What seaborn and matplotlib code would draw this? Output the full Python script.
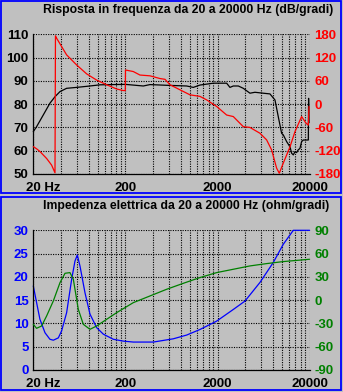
import numpy as np
import pandas as pd
import matplotlib
matplotlib.use("Agg")
import matplotlib.pyplot as plt
import seaborn as sns
from matplotlib.ticker import FixedLocator, NullFormatter
from matplotlib.patches import Rectangle
import matplotlib.transforms as mtransforms

# ---------------- data ----------------
spl_freq = [20, 21.7, 25.7, 30.3, 34.4, 39.0, 46.0, 59.1, 82.5, 105.9, 199.5, 312.8,
            369.8, 560.8, 924.6, 1092, 1290, 1800, 2513, 2731, 2969, 3366, 3812, 4502,
            5100, 6283, 7424, 8414, 9141, 9937, 10357, 11270, 12247, 12766, 13310,
            13870, 14460, 15000, 15710, 16380, 17090, 18580, 19370, 19500, 19700]
spl_db = [68.2, 70.3, 75.4, 80.4, 83.2, 85.4, 86.8, 87.2, 87.8, 88.3, 88.5, 87.8,
          88.4, 88.1, 87.8, 87.2, 88.2, 89.0, 89.0, 87.2, 87.8, 87.8, 86.8, 84.7,
          85.1, 84.7, 84.4, 81.8, 74.6, 67.5, 66.8, 63.9, 61.7, 58.9, 58.2,
          59.6, 59.2, 60.3, 61.0, 63.9, 64.6, 64.6, 64.6, 82.5, 72.0]

spl_phase_freq = [20, 21.7, 23.6, 27.9, 31.6, 34.4, 34.8, 35.8, 46.0, 59.1, 75.9, 97.4,
                  125.1, 160.7, 189.8, 199.5, 200.5, 243.8, 287.8, 369.8, 474.6, 538.3,
                  609.5, 782.6, 1004.9, 1290, 1524, 1959, 2513, 2969, 3812, 4502, 5780,
                  6826, 7741, 8770, 9374, 10357, 12247, 13870, 16380, 18280, 19370, 19700]
spl_phase_deg = [-109.5, -115, -122, -140, -157, -177, 176, 170, 127, 101, 78, 62,
                 50, 39, 35, 35, 88, 84, 75, 73, 66, 64,
                 50, 37, 24, 20, 11, -6, -28, -32, -58, -60, -75,
                 -92, -118, -165, -178, -152, -110, -71, -32, -49, -54, -6]

imp_freq = [20, 21.7, 23.6, 26.8, 30.3, 33.0, 37.4, 40.6, 46.0, 52.2, 56.7, 60.1, 64.3,
            72.8, 82.5, 97.4, 115.1, 147.8, 189.8, 243.8, 401.9, 662.6, 924.6, 1290,
            1959, 2969, 3974, 5780, 8072, 10357, 13310, 20000]
imp_ohm = [18.05, 14.5, 10.9, 8.0, 6.6, 6.4, 6.9, 8.4, 12.3, 19.5, 23.4, 24.7, 22.3,
           16.6, 12.0, 9.1, 7.7, 6.6, 6.2, 6.0, 6.0, 6.7, 7.5, 8.7,
           10.5, 13.0, 14.8, 18.8, 23.1, 27.0, 30.0, 30.0]

imp_phase_freq = [20, 21.7, 24.6, 27.9, 33.0, 39.0, 44.2, 50.0, 54.4, 61.6, 69.8, 82.5,
                  97.4, 125.1, 160.7, 243.8, 369.8, 560.8, 850.5, 1290, 1959, 2969,
                  4502, 6826, 10357, 20000]
imp_phase_deg = [-31.1, -36.3, -33.3, -20.4, -1.0, 22.6, 34.6, 35.5, 26.9, -11.8, -31.1,
                 -37.6, -33.3, -24.7, -16.1, -3.2, 5.4, 14.0, 21.7, 29.1, 35.5, 39.8,
                 44.1, 47.1, 49.7, 52.7]

x_ticks = [20, 200, 2000, 20000]
x_tick_labels = ["20 Hz", "200", "2000", "20000"]
spl_ticks = [50, 60, 70, 80, 90, 100, 110]
spl_phase_ticks = [-180, -120, -60, 0, 60, 120, 180]
imp_ticks = [0, 5, 10, 15, 20, 25, 30]
imp_phase_ticks = [-90, -60, -30, 0, 30, 60, 90]
grid_freqs = [20 * m * 10 ** k for k in range(3) for m in range(1, 10)] + [20000]

title_top = "Risposta in frequenza da 20 a 20000 Hz (dB/gradi)"
title_bot = "Impedenza elettrica da 20 a 20000 Hz (ohm/gradi)"

# ---------------- style ----------------
BG = "#c0c0c0"
sns.set_style("white")
plt.rcParams["font.family"] = ["Liberation Sans", "DejaVu Sans"]
plt.rcParams["font.weight"] = "bold"

W, H = 343, 392
fig = plt.figure(figsize=(W / 100, H / 100), dpi=100, facecolor=BG)


def px_rect(x0, y0_top, x1, y1_top):
    return [x0 / W, 1 - y1_top / H, (x1 - x0) / W, (y1_top - y0_top) / H]


# panel borders
for (x0, y0, x1, y1) in [(1, 0.8, 341.2, 193.2), (1, 197.2, 341.2, 390.4)]:
    fig.patches.append(Rectangle((x0 / W, 1 - y1 / H), (x1 - x0) / W, (y1 - y0) / H,
                                 transform=fig.transFigure, fill=False,
                                 edgecolor="#0000ff", linewidth=1.3, zorder=0))

ax1 = fig.add_axes(px_rect(33.3, 34.3, 309.6, 174.0))
ax2 = fig.add_axes(px_rect(33.3, 230.3, 309.6, 370.0))

LABEL_FS = 9.5


def setup(ax, ylim, yticks, ycolor, twin_ylim, twin_ticks, twin_color):
    ax.set_facecolor(BG)
    ax.set_xscale("log")
    ax.set_xlim(20, 20000)
    ax.set_ylim(*ylim)
    ax.xaxis.set_major_locator(FixedLocator(x_ticks))
    ax.set_xticklabels(x_tick_labels)
    ax.xaxis.set_minor_locator(FixedLocator(grid_freqs))
    ax.xaxis.set_minor_formatter(NullFormatter())
    ax.set_yticks(yticks)
    ax.set_yticklabels([str(v) for v in yticks])
    ax.set_axisbelow(True)
    ax.grid(True, which="both", axis="x", color="black", linestyle=(0, (1, 1.2)), linewidth=0.8)
    ax.grid(True, which="major", axis="y", color="black", linestyle=(0, (1, 1.2)), linewidth=0.8)
    for s in ["top", "right"]:
        ax.spines[s].set_visible(False)
    for s in ["left", "bottom"]:
        ax.spines[s].set_color("black")
        ax.spines[s].set_linewidth(0.9)
    ax.tick_params(axis="x", which="major", length=4, width=0.9, color="black",
                   direction="out", pad=1.5, labelsize=LABEL_FS, labelcolor="black")
    ax.tick_params(axis="x", which="minor", length=0)
    ax.tick_params(axis="y", length=0, pad=3.5, labelsize=LABEL_FS, labelcolor=ycolor)
    ax.set_xlabel("")
    ax.set_ylabel("")
    # "20 Hz": keep the "20" centred on the tick
    lab = ax.get_xticklabels()[0]
    lab.set_horizontalalignment("left")
    lab.set_transform(lab.get_transform() +
                      mtransforms.ScaledTranslation(-7.4 / 100, 0, fig.dpi_scale_trans))

    tw = ax.twinx()
    tw.set_ylim(*twin_ylim)
    tw.set_yticks(twin_ticks)
    tw.set_yticklabels([str(v) for v in twin_ticks])
    for s in tw.spines.values():
        s.set_visible(False)
    tw.tick_params(axis="y", length=0, pad=3.5, labelsize=LABEL_FS, labelcolor=twin_color)
    tw.grid(False)
    return tw


ax1b = setup(ax1, (50, 110), spl_ticks, "black", (-180, 180), spl_phase_ticks, "#ff0000")
ax2b = setup(ax2, (0, 30), imp_ticks, "#0000ff", (-90, 90), imp_phase_ticks, "#008000")

sns.lineplot(x=spl_freq, y=spl_db, ax=ax1, color="black", linewidth=0.9,
             estimator=None, sort=False)
sns.lineplot(x=spl_phase_freq, y=spl_phase_deg, ax=ax1b, color="#ff0000", linewidth=0.9,
             estimator=None, sort=False)
sns.lineplot(x=imp_freq, y=imp_ohm, ax=ax2, color="#0000ff", linewidth=0.9,
             estimator=None, sort=False)
sns.lineplot(x=imp_phase_freq, y=imp_phase_deg, ax=ax2b, color="#008000", linewidth=0.9,
             estimator=None, sort=False)

for a in (ax1, ax1b, ax2, ax2b):
    a.set_xlabel("")
    a.set_ylabel("")
    for ln in a.get_lines():
        ln.set_clip_on(False)

ax1b.set_ylim(-180, 180)
ax2b.set_ylim(-90, 90)
ax1.set_xlim(20, 20000)
ax2.set_xlim(20, 20000)

fig.text(43 / W, 1 - 13.0 / H, title_top, fontsize=8.8, fontweight="bold",
         ha="left", va="baseline", color="black")
fig.text(43 / W, 1 - 208.8 / H, title_bot, fontsize=8.8, fontweight="bold",
         ha="left", va="baseline", color="black")

fig.savefig("out.png", dpi=100, facecolor=BG)
